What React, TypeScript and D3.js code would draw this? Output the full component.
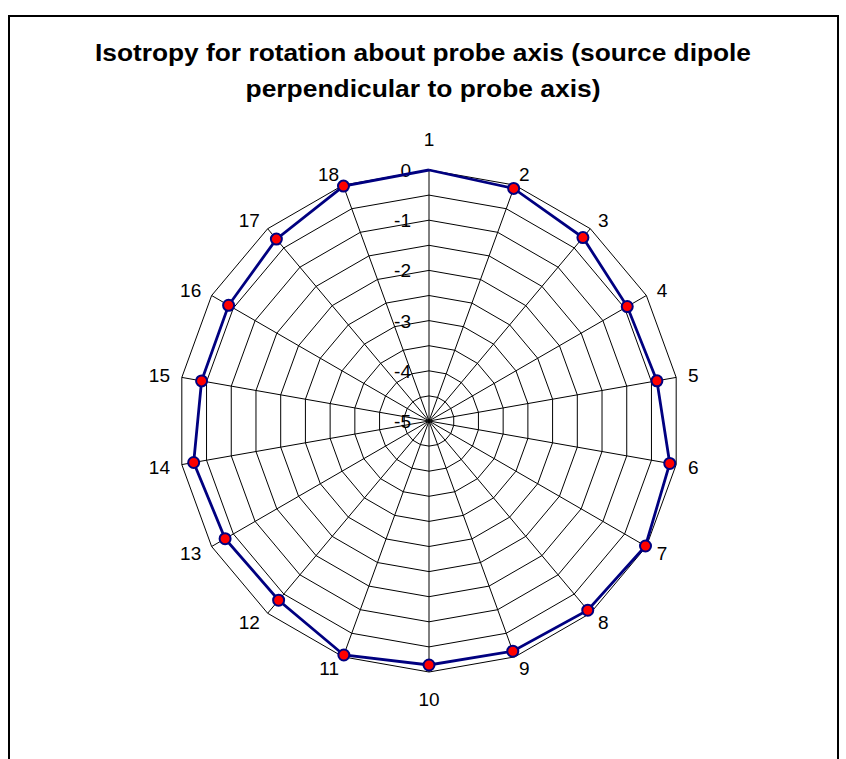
import React from 'react';
import * as d3 from 'd3';

const categories = ['1', '2', '3', '4', '5', '6', '7', '8', '9', '10', '11', '12', '13', '14', '15', '16', '17', '18'];
const values = [0, -0.07, -0.23, -0.44, -0.39, -0.13, -0.02, -0.08, -0.12, -0.14, -0.04, -0.34, -0.31, -0.24, -0.4, -0.39, -0.27, -0.02];
const ringValues = [-4.5, -4, -3.5, -3, -2.5, -2, -1.5, -1, -0.5, 0];
const tickLabels = [0, -1, -2, -3, -4, -5];
const titleLines = ['Isotropy for rotation about probe axis (source dipole', 'perpendicular to probe axis)'];

const W = 846;
const H = 759;
const cx = 429;
const cy = 421;
const R = 251;

export default function App() {
  const r = d3.scaleLinear().domain([-5, 0]).range([0, R]);
  const n = categories.length;
  const angle = (i: number) => (i * 2 * Math.PI) / n;
  const pt = (i: number, v: number): [number, number] => {
    const a = angle(i);
    return [cx + r(v) * Math.sin(a), cy - r(v) * Math.cos(a)];
  };

  const ring = (v: number) => {
    const pts = categories.map((_, i) => pt(i, v));
    return d3.line()(pts.concat([pts[0]])) as string;
  };

  const dataPts = values.map((v, i) => pt(i, v));
  const dataPath = d3.line()(dataPts.concat([dataPts[0]])) as string;

  return (
    <svg width={W} height={H} style={{ position: 'absolute', left: 0, top: 0, background: '#fff' }}
      fontFamily="'Liberation Sans', Arial, sans-serif">
      <rect x={9} y={16} width={829} height={800} fill="#fff" stroke="#000" strokeWidth={2} />
      {titleLines.map((t, i) => (
        <text key={i} x={423} y={61 + i * 36} textAnchor="middle" fontWeight="bold" fontSize={23}
          textLength={i === 0 ? 656 : 355} lengthAdjust="spacingAndGlyphs">{t}</text>
      ))}
      <g fill="none" stroke="#000" strokeWidth={1}>
        {ringValues.map(v => <path key={v} d={ring(v)} />)}
        {categories.map((_, i) => {
          const [x, y] = pt(i, 0);
          return <line key={i} x1={cx} y1={cy} x2={x} y2={y} />;
        })}
      </g>
      <g fontSize={19} textAnchor="end">
        {tickLabels.map(v => (
          <text key={v} x={411} y={cy - r(v) + 7}>{v}</text>
        ))}
      </g>
      <g fontSize={19}>
        {categories.map((c, i) => {
          const a = angle(i);
          const s = Math.sin(a);
          const co = Math.cos(a);
          const d = R + 12;
          const x = cx + d * s;
          const y = cy - d * co;
          if (Math.abs(s) < 0.01) {
            // top / bottom labels sit further out
            return <text key={c} x={x} y={co > 0 ? y - 12 : y + 22} textAnchor="middle">{c}</text>;
          }
          return <text key={c} x={x} y={y + 7} textAnchor={s > 0 ? 'start' : 'end'}>{c}</text>;
        })}
      </g>
      <path d={dataPath} fill="none" stroke="#000080" strokeWidth={2.8} />
      {dataPts.map(([x, y], i) => i === 0 ? null : (
        <circle key={i} cx={x} cy={y} r={5.5} fill="#ff0000" stroke="#000080" strokeWidth={2} />
      ))}
    </svg>
  );
}
